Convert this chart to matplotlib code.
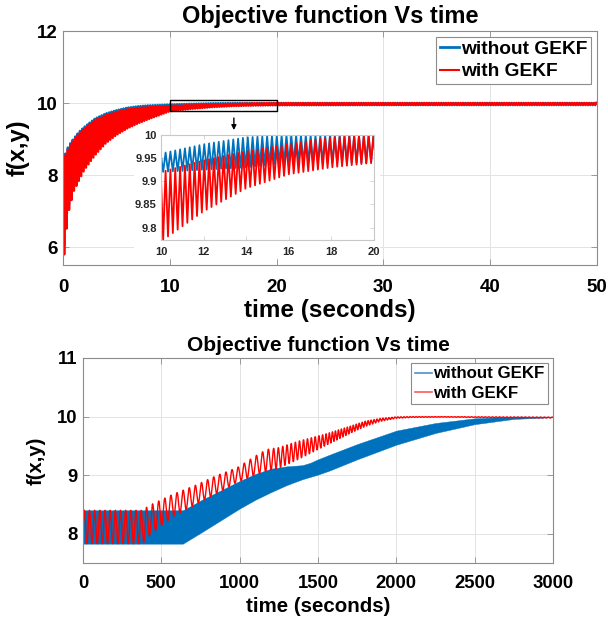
import numpy as np
import matplotlib
matplotlib.use('Agg')
import matplotlib.pyplot as plt
from matplotlib.patches import Rectangle
from matplotlib.lines import Line2D

plt.rcParams['font.family'] = ['Liberation Sans', 'DejaVu Sans']
plt.rcParams['font.weight'] = 'bold'

BLUE = '#0072BD'
RED = '#FF0000'

# ---------------- top panel (0-50 s): envelope key points
top_env_t = [0, 0.1, 0.3, 0.5, 1.0, 1.5, 2, 3, 4, 5, 6, 7, 8, 10, 12, 14, 16, 18, 20, 50]
red_top_upper = [8.4, 8.45, 8.6, 8.74, 8.97, 9.15, 9.29, 9.52, 9.66, 9.75, 9.82, 9.86, 9.89,
                 9.92, 9.945, 9.965, 9.98, 9.995, 10.0, 10.0]
red_top_lower = [5.75, 5.75, 6.4, 6.95, 7.55, 7.85, 8.14, 8.55, 8.88, 9.11, 9.29, 9.43, 9.55,
                 9.77, 9.835, 9.885, 9.915, 9.93, 9.94, 9.96]
blue_top_upper = [8.45, 8.5, 8.65, 8.8, 9.02, 9.2, 9.34, 9.57, 9.71, 9.8, 9.87, 9.91, 9.935,
                  9.96, 9.98, 9.995, 10.0, 10.0, 10.0, 10.0]
blue_top_lower = [6.0, 6.0, 6.6, 7.1, 7.7, 8.0, 8.3, 8.75, 9.1, 9.35, 9.55, 9.7, 9.8,
                  9.92, 9.925, 9.93, 9.94, 9.94, 9.94, 9.94]
top_period = 0.227  # seconds per oscillation

# ---------------- bottom panel (0-3000 s)
blue_bot_up_t = [0, 637, 700, 760, 1000, 1100, 1200, 1300, 1400, 1450, 1500, 1575, 1750, 2000,
                 2250, 2500, 2750, 3000]
blue_bot_upper = [8.4, 8.4, 8.49, 8.58, 8.9, 9.02, 9.11, 9.15, 9.17, 9.21, 9.27, 9.35, 9.53, 9.76,
                  9.89, 9.97, 10.0, 10.0]
blue_bot_lo_t = [0, 637, 760, 1000, 1100, 1200, 1300, 1400, 1500, 1575, 1750, 2000, 2250, 2500, 2750, 3000]
blue_bot_lower = [7.83, 7.83, 8.03, 8.43, 8.58, 8.71, 8.83, 8.93, 9.01, 9.08, 9.27, 9.52, 9.72, 9.87, 9.96, 9.99]

red_bot_t = [0, 380, 420, 500, 580, 720, 850, 985, 1120, 1175, 1250, 1375, 1545, 1710, 1800, 1900,
             2000, 2100, 2300, 3000]
red_bot_upper = [8.4, 8.4, 8.48, 8.58, 8.68, 8.83, 8.99, 9.13, 9.36, 9.44, 9.47, 9.58, 9.7, 9.84,
                 9.92, 9.97, 9.995, 10.0, 10.0, 9.99]
red_bot_lower = [7.83, 7.83, 7.95, 8.14, 8.3, 8.5, 8.68, 8.88, 9.02, 9.07, 9.12, 9.27, 9.5, 9.72,
                 9.83, 9.92, 9.97, 9.985, 9.99, 9.975]
red_period_t = [0, 380, 420, 1150, 1250, 1500, 1600, 2000, 3000]
red_period = [33, 33, 39, 39, 28, 24, 19, 19, 25]

top_xticks = [0, 10, 20, 30, 40, 50]
top_yticks = [6, 8, 10, 12]
inset_xticks = [10, 12, 14, 16, 18, 20]
inset_yticks = [9.8, 9.85, 9.9, 9.95, 10]
inset_ylabels = ['9.8', '9.85', '9.9', '9.95', '10']
bot_xticks = [0, 500, 1000, 1500, 2000, 2500, 3000]
bot_yticks = [8, 9, 10, 11]

title_txt = 'Objective function Vs time'
xlabel_txt = 'time (seconds)'
ylabel_txt = 'f(x,y)'
labels = ['without GEKF', 'with GEKF']


def zigzag(t_env, up, lo, period, tmax):
    tv = np.arange(0, tmax + 1e-9, period / 2)
    u = np.interp(tv, t_env, up)
    l = np.interp(tv, t_env, lo)
    y = np.where(np.arange(len(tv)) % 2 == 0, u, l)
    return tv, y


W, H = 608, 622
fig = plt.figure(figsize=(W / 100, H / 100), dpi=100)


def style(ax, fs, xpad, ypad):
    for s in ax.spines.values():
        s.set_color('#8c8c8c')
        s.set_linewidth(0.8)
    ax.tick_params(direction='in', length=4, width=0.6, color='#8c8c8c',
                   top=True, right=True, labelsize=fs, labelcolor='black')
    ax.tick_params(axis='x', pad=xpad)
    ax.tick_params(axis='y', pad=ypad)
    ax.grid(True, color='#e3e3e3', linewidth=0.7)
    ax.set_axisbelow(True)


# ---------------- top panel
ax1 = fig.add_axes([63 / W, 1 - 265 / H, 534 / W, 234 / H])
tb, yb = zigzag(top_env_t, blue_top_upper, blue_top_lower, top_period, 50)
tr, yr = zigzag(top_env_t, red_top_upper, red_top_lower, top_period, 50)
ax1.plot(tb, yb, color=BLUE, lw=1.7)
ax1.plot(tr, yr, color=RED, lw=1.7)
ax1.set_xlim(0, 50)
ax1.set_ylim(5.5, 12)
ax1.set_xticks(top_xticks)
ax1.set_yticks(top_yticks)
style(ax1, 13.5, 10, 4)
ax1.set_title(title_txt, fontsize=17, fontweight='bold', pad=6)
ax1.set_xlabel(xlabel_txt, fontsize=17.5, fontweight='bold', labelpad=2)
ax1.set_ylabel(ylabel_txt, fontsize=17, fontweight='bold', labelpad=5)
ax1.add_patch(Rectangle((10, 9.78), 10, 0.31, fill=False, edgecolor='black', lw=1.0, zorder=5))
ax1.annotate('', xy=(16, 9.17), xytext=(16, 9.66),
             arrowprops=dict(arrowstyle='-|>', color='black', lw=1.0, mutation_scale=7))
leg1 = ax1.legend([Line2D([], [], color=BLUE, lw=2), Line2D([], [], color=RED, lw=1.5)], labels,
                  loc='upper right', fontsize=13.8, handlelength=1.0, handletextpad=0.1,
                  borderpad=0.2, labelspacing=0.25, borderaxespad=0.3, fancybox=False,
                  framealpha=1)
leg1.get_frame().set_edgecolor('#8c8c8c')
leg1.get_frame().set_linewidth(0.8)
for t in leg1.get_texts():
    t.set_fontweight('bold')

# white backing behind inset and its labels
fig.add_artist(Rectangle((134 / W, 1 - 258 / H), (380 - 134) / W, (258 - 135) / H,
                         transform=fig.transFigure, facecolor='white', edgecolor='none', zorder=0.5))

ax3 = fig.add_axes([161 / W, 1 - 240 / H, 213 / W, 105 / H])
ax3.set_zorder(1)
ax3.plot(tb, yb, color=BLUE, lw=1.3)
ax3.plot(tr, yr, color=RED, lw=1.3)
ax3.set_xlim(10, 20)
ax3.set_ylim(9.773, 10.0)
ax3.set_xticks(inset_xticks)
ax3.set_yticks(inset_yticks)
ax3.set_yticklabels(inset_ylabels)
for s in ax3.spines.values():
    s.set_color('#c8c8c8')
    s.set_linewidth(0.8)
ax3.tick_params(direction='in', length=3, width=0.5, color='#c8c8c8', top=True, right=True,
                labelsize=8, labelcolor='#262626', pad=3)
ax3.tick_params(axis='x', pad=5)

# ---------------- bottom panel
ax2 = fig.add_axes([83 / W, 1 - 563 / H, 470 / W, 205 / H])
tt = np.linspace(0, 3000, 30001)
ax2.fill_between(tt, np.interp(tt, blue_bot_lo_t, blue_bot_lower),
                 np.interp(tt, blue_bot_up_t, blue_bot_upper),
                 color=BLUE, lw=0.3, edgecolor=BLUE)
per = np.interp(tt, red_period_t, red_period)
phase = np.concatenate([[0], np.cumsum(np.diff(tt) / per[:-1])])
ru = np.interp(tt, red_bot_t, red_bot_upper)
rl = np.interp(tt, red_bot_t, red_bot_lower)
ax2.plot(tt, (ru + rl) / 2 + (ru - rl) / 2 * np.sin(2 * np.pi * phase), color=RED, lw=1.0)
ax2.set_xlim(0, 3000)
ax2.set_ylim(7.5, 11)
ax2.set_xticks(bot_xticks)
ax2.set_yticks(bot_yticks)
style(ax2, 13.3, 9, 4)
ax2.set_title(title_txt, fontsize=15, fontweight='bold', pad=5)
ax2.set_xlabel(xlabel_txt, fontsize=14.8, fontweight='bold', labelpad=3)
ax2.set_ylabel(ylabel_txt, fontsize=14.5, fontweight='bold', labelpad=8)
leg2 = ax2.legend([Line2D([], [], color='#4a90d0', lw=1.2), Line2D([], [], color='#ff5a5a', lw=1.2)], labels,
                  loc='upper right', fontsize=12.2, handlelength=1.0, handletextpad=0.1,
                  borderpad=0.2, labelspacing=0.25, borderaxespad=0.3, fancybox=False,
                  framealpha=1)
leg2.get_frame().set_edgecolor('#8c8c8c')
leg2.get_frame().set_linewidth(0.8)
for t in leg2.get_texts():
    t.set_fontweight('bold')

fig.savefig('out.png', dpi=100)
